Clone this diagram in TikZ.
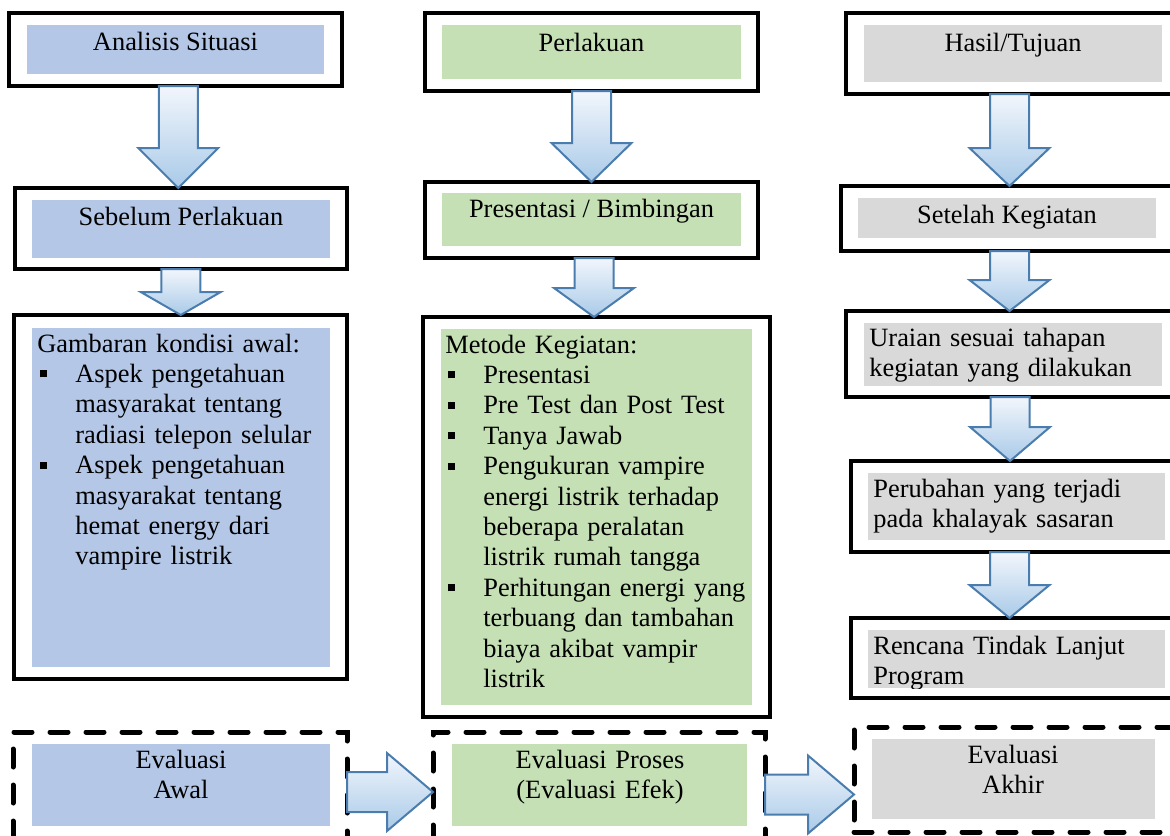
\documentclass[tikz,border=0pt]{standalone}
\usepackage{fontspec}
\setmainfont{Liberation Serif}
\usetikzlibrary{positioning, calc, fit}

\definecolor{bluebox}{HTML}{B4C7E7}
\definecolor{greenbox}{HTML}{C5E0B4}
\definecolor{graybox}{HTML}{D9D9D9}
\definecolor{arrline}{HTML}{4A7DAE}
\definecolor{arrtop}{HTML}{F2F6FC}
\definecolor{arrbot}{HTML}{A9CAE8}

\tikzset{
  outerbox/.style={draw, line width=1.6pt, inner sep=0pt, outer sep=0pt},
  dashbox/.style={draw, line width=2.5pt, dash pattern=on 9pt off 9pt, line cap=round, inner sep=0pt, outer sep=0pt},
  bfill/.style={fill=bluebox, inner sep=0pt, outer sep=0pt},
  gfill/.style={fill=greenbox, inner sep=0pt, outer sep=0pt},
  sfill/.style={fill=graybox, inner sep=0pt, outer sep=0pt},
  txt/.style={inner sep=0pt, font=\fontsize{13.2}{15.2}\selectfont},
  listtext/.style={text width=165pt, align=left},
  centertext/.style={text width=150pt, align=center},
  blockarrow/.style={draw=arrline, line width=1pt, top color=arrtop, bottom color=arrbot, line join=miter},
}

% block arrow down: from, to, head length, x shift
\newcommand{\downblk}[4]{%
  \path[blockarrow] let \p1=(#1.south), \p2=(#2.north), \p3=($(\p1)!0.5!(\p2)+(#4,0)$) in
    (\x3-9.75pt,\y1) -- (\x3+9.75pt,\y1) -- (\x3+9.75pt,\y2+#3) -- (\x3+20pt,\y2+#3)
    -- (\x3,\y2) -- (\x3-20pt,\y2+#3) -- (\x3-9.75pt,\y2+#3) -- cycle;}
% block arrow right: from, to, shift down
\newcommand{\rightblk}[3]{%
  \path[blockarrow] let \p1=($(#1.east)+(0,#3)$), \p2=(#2.west) in
    (\x1,\y1+10pt) -- (\x2-23pt,\y1+10pt) -- (\x2-23pt,\y1+19.5pt) -- (\x2,\y1)
    -- (\x2-23pt,\y1-19.5pt) -- (\x2-23pt,\y1-10pt) -- (\x1,\y1-10pt) -- cycle;}
\newcommand{\itm}[1]{\par\noindent\makebox[19pt][l]{\hspace{1.5pt}\raisebox{2.5pt}{\rule{3.5pt}{3.5pt}}}%
  \parbox[t]{140pt}{\raggedright #1\par\xdef\itmdepth{\the\prevdepth}}\par\prevdepth=\itmdepth}

\begin{document}
\begin{tikzpicture}[x=0.5pt, y=-0.5pt]
\useasboundingbox (0,0) rectangle (1170,835);
\clip (0,0) rectangle (1170,835);

% kolom 1
\node[bfill, fit={(27,25) (324,74)}] (sitF) {};
\node[outerbox, fit={(9,13) (342,86)}] (sit) {};
\node[txt, anchor=base] (sitT) at (175.5,50) {Analisis Situasi};

\node[bfill, fit={(32,200) (330,258)}] (preF) {};
\node[outerbox, fit={(15,188) (347,269)}] (pre) {};
\node[txt, anchor=base] (preT) at (181,225) {Sebelum Perlakuan};

\node[bfill, fit={(32,328) (330,667)}] (awlF) {};
\node[outerbox, fit={(14,315) (347,679)}] (awl) {};
\node[txt, listtext, anchor=base west] (awlT) at (37,352) {Gambaran kondisi awal:
  \itm{Aspek pengetahuan\\masyarakat tentang\\radiasi telepon selular}
  \itm{Aspek pengetahuan\\masyarakat tentang\\hemat energy dari\\vampire listrik}};

% kolom 2
\node[gfill, fit={(442,25) (741,79)}] (prlF) {};
\node[outerbox, fit={(425,13) (758,91)}] (prl) {};
\node[txt, anchor=base] (prlT) at (591.5,51) {Perlakuan};

\node[gfill, fit={(442,193) (741,246)}] (bmbF) {};
\node[outerbox, fit={(425,182) (758,258)}] (bmb) {};
\node[txt, anchor=base] (bmbT) at (591.5,217) {Presentasi / Bimbingan};

\node[gfill, fit={(441,329) (752,705)}] (mtdF) {};
\node[outerbox, fit={(423,317) (770,717)}] (mtd) {};
\node[txt, listtext, anchor=base west] (mtdT) at (445,353) {Metode Kegiatan:
  \itm{Presentasi}
  \itm{Pre Test dan Post Test}
  \itm{Tanya Jawab}
  \itm{Pengukuran vampire\\energi listrik terhadap\\beberapa peralatan\\listrik rumah tangga}
  \itm{Perhitungan energi yang\\terbuang dan tambahan\\biaya akibat vampir\\listrik}};

% kolom 3
\node[sfill, fit={(864,25) (1162,82)}] (hslF) {};
\node[outerbox, fit={(846,13) (1250,94)}] (hsl) {};
\node[txt, anchor=base] (hslT) at (1013,51) {Hasil/Tujuan};

\node[sfill, fit={(858,198) (1156,238)}] (stlF) {};
\node[outerbox, fit={(841,186) (1250,251)}] (stl) {};
\node[txt, anchor=base] (stlT) at (1007,223) {Setelah Kegiatan};

\node[sfill, fit={(864,323) (1162,386)}] (uraF) {};
\node[outerbox, fit={(846,311) (1250,397)}] (ura) {};
\node[txt, listtext, anchor=base west] (uraT) at (869,346) {Uraian sesuai tahapan\\kegiatan yang dilakukan};

\node[sfill, fit={(868,473) (1165,540)}] (rubF) {};
\node[outerbox, fit={(851,461) (1250,552)}] (rub) {};
\node[txt, listtext, anchor=base west] (rubT) at (873,497) {Perubahan yang terjadi\\pada khalayak sasaran};

\node[sfill, fit={(868,630) (1165,688)}] (renF) {};
\node[outerbox, fit={(851,618) (1250,698)}] (ren) {};
\begin{scope}
\clip (868,630) rectangle (1165,688);
\node[txt, listtext, anchor=base west] (renT) at (873,654) {Rencana Tindak Lanjut\\Program};
\end{scope}

% evaluasi
\node[bfill, fit={(32,744) (330,826)}] (evaF) {};
\node[dashbox, fit={(13,732) (347,839)}] (eva) {};
\node[txt, centertext, anchor=base] (evaT) at (181,768) {Evaluasi\\Awal};

\node[gfill, fit={(452,744) (747,826)}] (evpF) {};
\node[dashbox, fit={(433,732) (765,839)}] (evp) {};
\node[txt, centertext, anchor=base] (evpT) at (600,768) {Evaluasi Proses\\(Evaluasi Efek)};

\node[sfill, fit={(872,739) (1155,819)}] (evkF) {};
\node[dashbox, fit={(854,727) (1250,832)}] (evk) {};
\node[txt, centertext, anchor=base] (evkT) at (1013,763) {Evaluasi\\Akhir};

% panah
\downblk{sit}{pre}{20pt}{0}
\downblk{pre}{awl}{11.5pt}{0}
\downblk{prl}{bmb}{19.5pt}{0}
\downblk{bmb}{mtd}{14.5pt}{0}
\downblk{hsl}{stl}{19pt}{-37.25}
\downblk{stl}{ura}{15.5pt}{-37.25}
\downblk{ura}{rub}{17pt}{-39.25}
\downblk{rub}{ren}{16.5pt}{-41}
\rightblk{eva}{evp}{6.5}
\rightblk{evp}{evk}{9}

\end{tikzpicture}
\end{document}
